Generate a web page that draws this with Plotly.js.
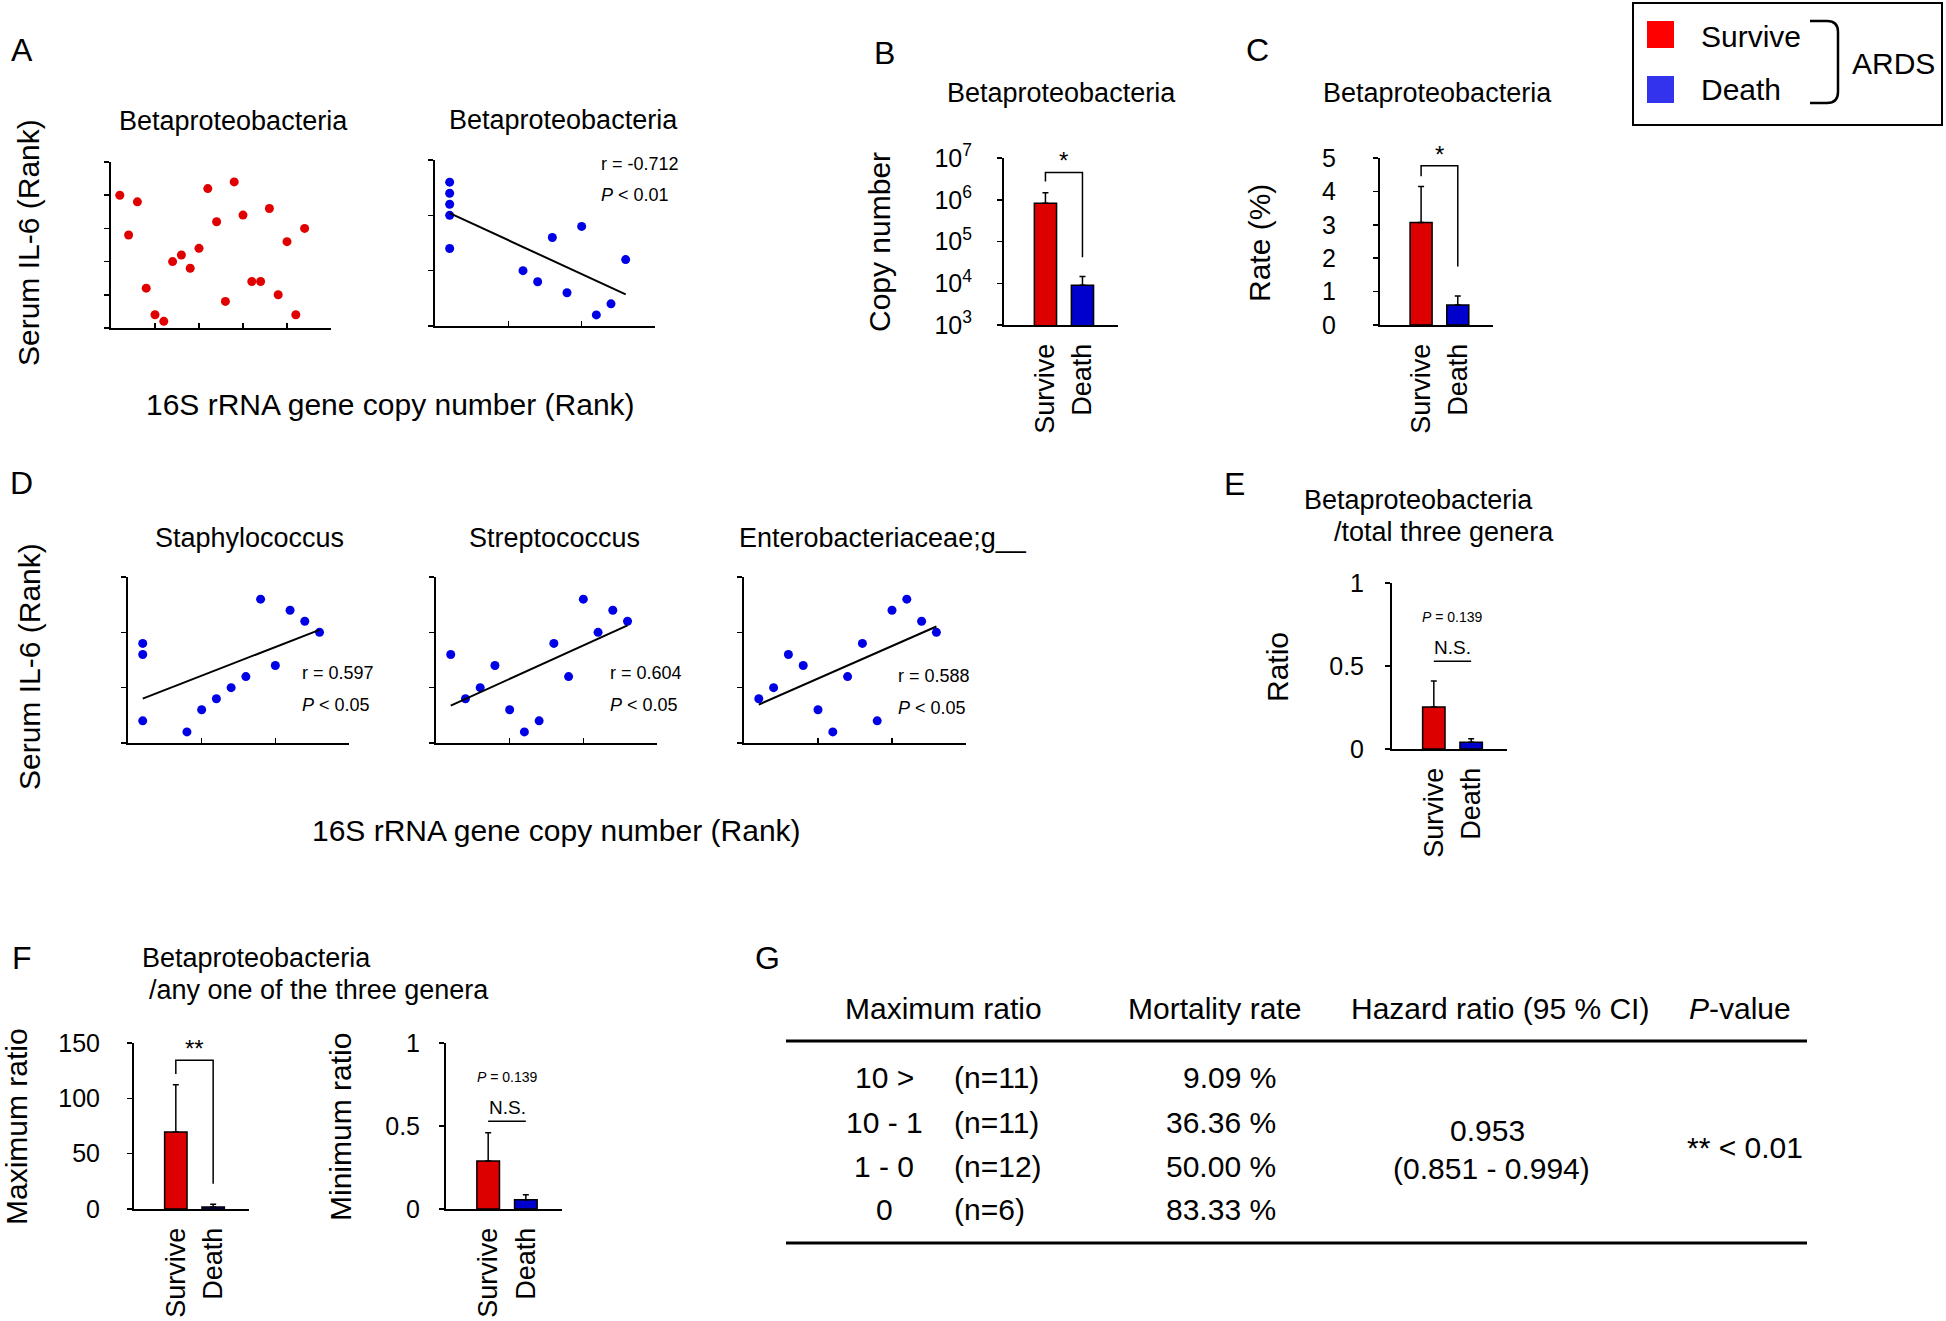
<!DOCTYPE html>
<html>
<head>
<meta charset="utf-8">
<script src="https://cdn.plot.ly/plotly-3.0.1.min.js"></script>
<style>
  html, body { margin: 0; padding: 0; background: #fff; }
  #fig { width: 1946px; height: 1321px; }
</style>
</head>
<body>
<div id="fig"></div>
<script>
'use strict';

const W = 1946, H = 1321;
const FONT = 'Liberation Sans, Arial, sans-serif';

// ---- data ----
const groups = ['Survive', 'Death'];

// A: ranks, Betaproteobacteria copy number vs serum IL-6
const aSurviveX = [1, 2, 3, 4, 5, 6, 7, 8, 9, 10, 11, 12, 13, 14, 15, 16, 17, 18, 19, 20, 21, 22];
const aSurviveY = [20, 14, 19, 6, 2, 1, 10, 11, 9, 12, 21, 16, 4, 22, 17, 7, 7, 18, 5, 13, 2, 15];
const aDeathX = [1, 1, 1, 1, 1, 6, 7, 8, 9, 10, 11, 12, 13];
const aDeathY = [13, 12, 11, 10, 7, 5, 4, 8, 3, 9, 1, 2, 6];
const aDeathStats = ['r = -0.712', '<i>P</i> < 0.01'];

// B: copy number (mean, SEM)
const copyMean = [8.2e5, 8.9e3];
const copySem = [6.5e5, 5.6e3];
const copyTicks = [1e3, 1e4, 1e5, 1e6, 1e7];
const copyTickText = ['10<sup>3</sup>', '10<sup>4</sup>', '10<sup>5</sup>', '10<sup>6</sup>', '10<sup>7</sup>'];
const copyBracket = [2.75e6, 4.5e6, 4.2e4];
const copyP = '0.011';

// C: rate (%)
const rateMean = [3.07, 0.6];
const rateSem = [1.08, 0.27];
const rateBracket = [4.45, 4.77, 1.75];
const rateP = '0.019';

// D: ranks for the three genera (death group)
const genera = ['Staphylococcus', 'Streptococcus', 'Enterobacteriaceae;g__'];
const staphX = [1, 1, 1, 4, 5, 6, 7, 8, 9, 10, 11, 12, 13];
const staphY = [9, 8, 2, 1, 3, 4, 5, 6, 13, 7, 12, 11, 10];
const strepX = [1, 2, 3, 4, 5, 6, 7, 8, 9, 10, 11, 12, 13];
const strepY = [8, 4, 5, 7, 3, 1, 2, 9, 6, 13, 10, 12, 11];
const enteroX = [1, 2, 3, 4, 5, 6, 7, 8, 9, 10, 11, 12, 13];
const enteroY = [4, 5, 8, 7, 3, 1, 6, 9, 2, 12, 13, 11, 10];
const generaR = ['0.597', '0.604', '0.588'];

// E: ratio to total of three genera
const totalMean = [0.253, 0.04];
const totalSem = [0.157, 0.022];
const totalLine = 0.528;
const totalP = '0.139';

// F: maximum / minimum ratio
const maxMean = [69.6, 1.8];
const maxSem = [42.7, 2.4];
const maxBracket = [122, 134.3, 22.9];
const maxP = '0.006';
const minMean = [0.289, 0.056];
const minSem = [0.171, 0.03];
const minLine = 0.528;
const minP = '0.139';

// G: table
const gHeaders = ['Maximum ratio', 'Mortality rate', 'Hazard ratio (95 % CI)', '<i>P</i>-value'];
const gRanges = ['10 >', '10 - 1', '1 - 0', '0'];
const gCounts = [11, 11, 12, 6];
const gMortality = [9.09, 36.36, 50.00, 83.33];
const gHazard = 0.953;
const gCI = [0.851, 0.994];
const gPvalue = '** < 0.01';

// ---- styles ----
const RED = '#dd0000', BLUE = '#0000cc';
const DOT_RED = '#e00000', DOT_BLUE = '#0000e6';

const traces = [];
const annotations = [];
const shapes = [];
const layout = {
  width: W, height: H,
  margin: { l: 0, r: 0, t: 0, b: 0 },
  paper_bgcolor: '#fff', plot_bgcolor: '#fff',
  showlegend: false,
  font: { family: FONT, color: '#000' },
  annotations, shapes
};

const axisBase = {
  showline: true, linecolor: '#000', linewidth: 2,
  showgrid: false, zeroline: false,
  ticks: 'outside', ticklen: 5, tickwidth: 1.5, tickcolor: '#000',
  tickfont: { size: 25, color: '#000', family: FONT },
  fixedrange: true
};

let nAx = 0;
function addAxes(box, xo, yo) {
  nAx += 1;
  const s = nAx === 1 ? '' : String(nAx);
  layout['xaxis' + s] = Object.assign({}, axisBase,
    { domain: [box[0] / W, box[1] / W], anchor: 'y' + s }, xo);
  layout['yaxis' + s] = Object.assign({}, axisBase,
    { domain: [1 - box[3] / H, 1 - box[2] / H], anchor: 'x' + s }, yo);
  return { x: 'x' + s, y: 'y' + s };
}

function note(text, px, py, size, opts) {
  annotations.push(Object.assign({
    xref: 'paper', yref: 'paper', x: px / W, y: 1 - py / H,
    text, showarrow: false, font: { size, family: FONT, color: '#000' },
    xanchor: 'center', yanchor: 'middle'
  }, opts || {}));
}

function fitLine(xs, ys) {
  const n = xs.length;
  const mx = xs.reduce((a, b) => a + b, 0) / n;
  const my = ys.reduce((a, b) => a + b, 0) / n;
  let sxy = 0, sxx = 0;
  xs.forEach((x, i) => { sxy += (x - mx) * (ys[i] - my); sxx += (x - mx) * (x - mx); });
  const k = sxy / sxx;
  const x0 = Math.min(...xs), x1 = Math.max(...xs);
  return { x: [x0, x1], y: [my + k * (x0 - mx), my + k * (x1 - mx)] };
}

function scatterPanel(box, xs, ys, color, top, withFit) {
  const ax = addAxes(box,
    { range: [0, top], tick0: 0, dtick: 5, ticks: 'inside', showticklabels: false },
    { range: [0, top], tick0: 0, dtick: 5, showticklabels: false });
  traces.push({
    type: 'scatter', mode: 'markers', x: xs, y: ys, xaxis: ax.x, yaxis: ax.y,
    marker: { color, size: 9 }, cliponaxis: false, hoverinfo: 'skip'
  });
  if (withFit) {
    const f = fitLine(xs, ys);
    traces.push({
      type: 'scatter', mode: 'lines', x: f.x, y: f.y, xaxis: ax.x, yaxis: ax.y,
      line: { color: '#000', width: 2 }, cliponaxis: false, hoverinfo: 'skip'
    });
  }
  return ax;
}

function barPanel(box, means, sems, yo, standoff) {
  const ax = addAxes(box,
    { type: 'category', range: [-1.12, 1.96], ticks: '', tickangle: -90,
      tickfont: { size: 27, color: '#000', family: FONT }, ticklabelstandoff: 6 },
    Object.assign({ ticklabelstandoff: standoff }, yo));
  traces.push({
    type: 'bar', x: groups, y: means, xaxis: ax.x, yaxis: ax.y, width: 0.6,
    marker: { color: [RED, BLUE], line: { color: '#000', width: 1.5 } },
    error_y: { type: 'data', symmetric: false, array: sems, arrayminus: [0, 0],
      color: '#000', thickness: 1.5, width: 3 },
    hoverinfo: 'skip'
  });
  return ax;
}

function bracket(ax, lvl) {
  traces.push({
    type: 'scatter', mode: 'lines', xaxis: ax.x, yaxis: ax.y,
    x: [groups[0], groups[0], groups[1], groups[1]], y: [lvl[0], lvl[1], lvl[1], lvl[2]],
    line: { color: '#000', width: 1.5 }, cliponaxis: false, hoverinfo: 'skip'
  });
}

function flatLine(ax, v) {
  traces.push({
    type: 'scatter', mode: 'lines', xaxis: ax.x, yaxis: ax.y,
    x: groups, y: [v, v], line: { color: '#000', width: 1.5 },
    cliponaxis: false, hoverinfo: 'skip'
  });
}

function axNote(ax, text, y, size, opts) {
  annotations.push(Object.assign({
    xref: ax.x, yref: ax.y, x: 0.5, y, text, showarrow: false,
    font: { size, family: FONT, color: '#000' }, xanchor: 'center', yanchor: 'middle'
  }, opts || {}));
}

// ---- panel letters ----
note('A', 9, 50, 32, { xanchor: 'left' });
note('B', 872, 53, 32, { xanchor: 'left' });
note('C', 1244, 50, 32, { xanchor: 'left' });
note('D', 8, 483, 32, { xanchor: 'left' });
note('E', 1222, 484, 32, { xanchor: 'left' });
note('F', 10, 958, 32, { xanchor: 'left' });
note('G', 753, 958, 32, { xanchor: 'left' });

// ---- A ----
scatterPanel([111, 331, 162, 328], aSurviveX, aSurviveY, DOT_RED, 25, false);
scatterPanel([435, 655, 160, 326], aDeathX, aDeathY, DOT_BLUE, 15, true);
note('Betaproteobacteria', 233, 121, 27);
note('Betaproteobacteria', 563, 120, 27);
note(aDeathStats[0], 599, 164, 18, { xanchor: 'left' });
note(aDeathStats[1], 599, 195, 18, { xanchor: 'left' });
note('Serum IL-6 (Rank)', 29, 243, 30, { textangle: -90 });
note('16S rRNA gene copy number (Rank)', 390, 404, 30);

// ---- B ----
const axB = barPanel([1004, 1118, 158, 325], copyMean, copySem,
  { type: 'log', range: [3, 7], tickvals: copyTicks, ticktext: copyTickText }, 20);
bracket(axB, copyBracket);
axNote(axB, '*', Math.log10(copyBracket[1]), 24, { yanchor: 'bottom', yshift: -4 });
axNote(axB, '<i>P</i> = ' + copyP, 7.44, 14);
note('Betaproteobacteria', 1061, 93, 27);
note('Copy number', 879, 242, 30, { textangle: -90 });

// ---- C ----
const axC = barPanel([1380, 1493, 158, 325], rateMean, rateSem,
  { range: [0, 5], dtick: 1 }, 32);
bracket(axC, rateBracket);
axNote(axC, '*', rateBracket[1], 24, { yanchor: 'bottom', yshift: -4 });
axNote(axC, '<i>P</i> = ' + rateP, 5.7, 14);
note('Betaproteobacteria', 1437, 93, 27);
note('Rate (%)', 1260, 243, 30, { textangle: -90 });

// ---- D ----
const dBoxes = [[128, 349, 577, 743], [436, 657, 577, 743], [744, 966, 577, 743]];
const dXs = [staphX, strepX, enteroX];
const dYs = [staphY, strepY, enteroY];
const dTitleX = [249, 554, 883];
const dStatX = [300, 608, 896];
const dStatY = [673, 673, 676];
dBoxes.forEach((b, i) => {
  scatterPanel(b, dXs[i], dYs[i], DOT_BLUE, 15, true);
  note(genera[i], dTitleX[i], 538, 27);
  note('r = ' + generaR[i], dStatX[i], dStatY[i], 18, { xanchor: 'left' });
  note('<i>P</i> < 0.05', dStatX[i], dStatY[i] + 32, 18, { xanchor: 'left' });
});
note('Serum IL-6 (Rank)', 29, 667, 30, { textangle: -90 });
note('16S rRNA gene copy number (Rank)', 556, 830, 30);

// ---- E ----
const axE = barPanel([1392, 1507, 583, 749], totalMean, totalSem,
  { range: [0, 1], dtick: 0.5 }, 16);
flatLine(axE, totalLine);
axNote(axE, 'N.S.', 0.61, 19);
axNote(axE, '<i>P</i> = ' + totalP, 0.795, 14);
note('Betaproteobacteria', 1302, 500, 27, { xanchor: 'left' });
note('/total three genera', 1332, 532, 27, { xanchor: 'left' });
note('Ratio', 1277, 667, 30, { textangle: -90 });

// ---- F ----
const axF1 = barPanel([134, 249, 1043, 1209], maxMean, maxSem,
  { range: [0, 150], dtick: 50 }, 22);
bracket(axF1, maxBracket);
axNote(axF1, '**', maxBracket[1], 24, { yanchor: 'bottom', yshift: -4 });
axNote(axF1, '<i>P</i> = ' + maxP, 164, 14);
const axF2 = barPanel([446, 562, 1043, 1209], minMean, minSem,
  { range: [0, 1], dtick: 0.5 }, 14);
flatLine(axF2, minLine);
axNote(axF2, 'N.S.', 0.61, 19);
axNote(axF2, '<i>P</i> = ' + minP, 0.795, 14);
note('Betaproteobacteria', 140, 958, 27, { xanchor: 'left' });
note('/any one of the three genera', 147, 990, 27, { xanchor: 'left' });
note('Maximum ratio', 16, 1127, 30, { textangle: -90 });
note('Minimum ratio', 340, 1127, 30, { textangle: -90 });

// ---- G: table ----
const gColX = [943, 1214, 1500, 1740];
gHeaders.forEach((h, i) => note(h, gColX[i], 1008, 30));
const rowY = [1077, 1122, 1166, 1209];
gRanges.forEach((r, i) => {
  note(r, 884, rowY[i], 30);
  note('(n=' + gCounts[i] + ')', 952, rowY[i], 30, { xanchor: 'left' });
  note(gMortality[i].toFixed(2) + ' %', 1278, rowY[i], 30, { xanchor: 'right' });
});
note(gHazard.toFixed(3), 1487, 1130, 30);
note('(' + gCI[0].toFixed(3) + ' - ' + gCI[1].toFixed(3) + ')', 1491, 1168, 30);
note(gPvalue, 1745, 1147, 30);

function px(x) { return x / W; }
function py(y) { return 1 - y / H; }
[1041, 1243].forEach(y => shapes.push({
  type: 'line', xref: 'paper', yref: 'paper',
  x0: px(786), x1: px(1807), y0: py(y), y1: py(y),
  line: { color: '#000', width: 3 }
}));

// ---- legend ----
shapes.push({ type: 'rect', xref: 'paper', yref: 'paper',
  x0: px(1633), x1: px(1942), y0: py(125), y1: py(3),
  line: { color: '#000', width: 2 }, fillcolor: 'rgba(0,0,0,0)' });
shapes.push({ type: 'rect', xref: 'paper', yref: 'paper',
  x0: px(1647), x1: px(1674), y0: py(48), y1: py(21),
  line: { width: 0 }, fillcolor: '#ff0000' });
shapes.push({ type: 'rect', xref: 'paper', yref: 'paper',
  x0: px(1647), x1: px(1674), y0: py(103), y1: py(76),
  line: { width: 0 }, fillcolor: '#3333ee' });
const P = (x, y) => px(x).toFixed(5) + ',' + py(y).toFixed(5);
shapes.push({ type: 'path', xref: 'paper', yref: 'paper',
  path: 'M' + P(1810, 21) + ' L' + P(1827, 21) + ' Q' + P(1838, 21) + ' ' + P(1838, 32) +
        ' L' + P(1838, 92) + ' Q' + P(1838, 103) + ' ' + P(1827, 103) + ' L' + P(1810, 103),
  line: { color: '#000', width: 2.5 } });
note(groups[0], 1699, 36, 30, { xanchor: 'left' });
note(groups[1], 1699, 90, 30, { xanchor: 'left' });
note('ARDS', 1850, 63, 30, { xanchor: 'left' });

Plotly.newPlot('fig', traces, layout, { displayModeBar: false, staticPlot: true });
</script>
</body>
</html>
